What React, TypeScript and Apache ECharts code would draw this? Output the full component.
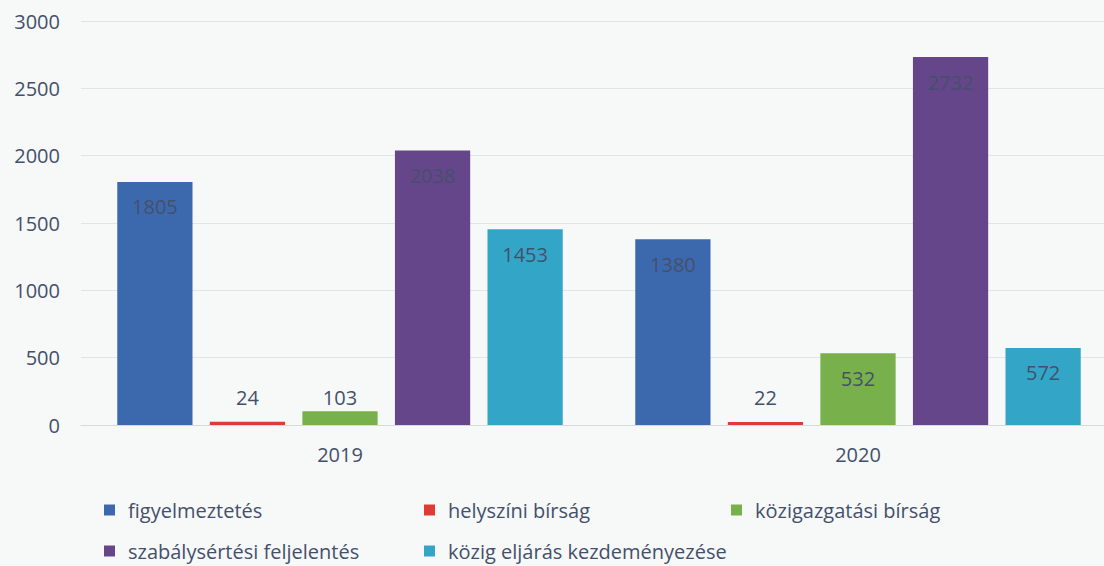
import React, { useEffect, useRef } from "react";
import * as echarts from "echarts";

const categories = ["2019", "2020"];
const seriesNames = [
  "figyelmeztetés",
  "helyszíni bírság",
  "közigazgatási bírság",
  "szabálysértési feljelentés",
  "közig eljárás kezdeményezése",
];
const figyelmeztetes = [1805, 1380];
const helyszini = [24, 22];
const kozigazgatasi = [103, 532];
const szabalysertesi = [2038, 2732];
const kozigEljaras = [1453, 572];
const yTicks = [0, 500, 1000, 1500, 2000, 2500, 3000];

const colors = ["#3C69AE", "#DE3B36", "#78B04C", "#66468A", "#33A6C8"];
const FONT = "'Open Sans', 'Noto Sans', sans-serif";
const TEXT = "#44506B";

export default function App() {
  const ref = useRef<HTMLDivElement>(null);
  useEffect(() => {
    const chart = echarts.init(ref.current!, null, { renderer: "svg" });
    const values = [figyelmeztetes, helyszini, kozigazgatasi, szabalysertesi, kozigEljaras];
    const series = values.map((vals, i) => ({
      name: seriesNames[i],
      type: "bar",
      barGap: "23%",
      barCategoryGap: "14%",
      itemStyle: { color: colors[i] },
      data: vals.map((v) => ({
        value: v,
        label:
          v < 200
            ? { position: "insideBottom", distance: 18 }
            : { position: "insideTop", distance: 15 },
      })),
      label: {
        show: true,
        color: TEXT,
        fontFamily: FONT,
        fontSize: 20,
      },
    }));
    const legendCommon = {
      orient: "vertical",
      itemWidth: 11,
      itemHeight: 11,
      itemGap: 21,
      icon: "rect",
      textStyle: { color: TEXT, fontFamily: FONT, fontSize: 20, padding: [0, 0, 0, 8] },
      selectedMode: false,
    };
    chart.setOption({
      animation: false,
      backgroundColor: "#F7F9F8",
      color: colors,
      grid: { left: 81, right: 3, top: 21, bottom: 141, containLabel: false },
      legend: [
        { ...legendCommon, left: 99, top: 495, data: [seriesNames[0], seriesNames[3]] },
        { ...legendCommon, left: 419, top: 495, data: [seriesNames[1], seriesNames[4]] },
        { ...legendCommon, left: 726, top: 495, data: [seriesNames[2]] },
      ],
      xAxis: {
        type: "category",
        data: categories,
        axisLine: { show: true, lineStyle: { color: "#D6DADB", width: 1 } },
        axisTick: { show: false },
        axisLabel: { color: TEXT, fontFamily: FONT, fontSize: 20, margin: 19 },
      },
      yAxis: {
        type: "value",
        min: yTicks[0],
        max: yTicks[yTicks.length - 1],
        interval: yTicks[1] - yTicks[0],
        axisLine: { show: false },
        axisTick: { show: false },
        splitLine: { lineStyle: { color: "#E2E5E6", width: 1 } },
        axisLabel: {
          color: TEXT,
          fontFamily: FONT,
          fontSize: 20,
          margin: 21,
          formatter: (v: number) => String(v),
        },
      },
      series,
    });
    return () => chart.dispose();
  }, []);
  return (
    <div style={{ position: "fixed", left: 0, top: 0, width: 1104, height: 566, overflow: "hidden" }}>
      <div ref={ref} style={{ width: 1120, height: 566 }} />
    </div>
  );
}
